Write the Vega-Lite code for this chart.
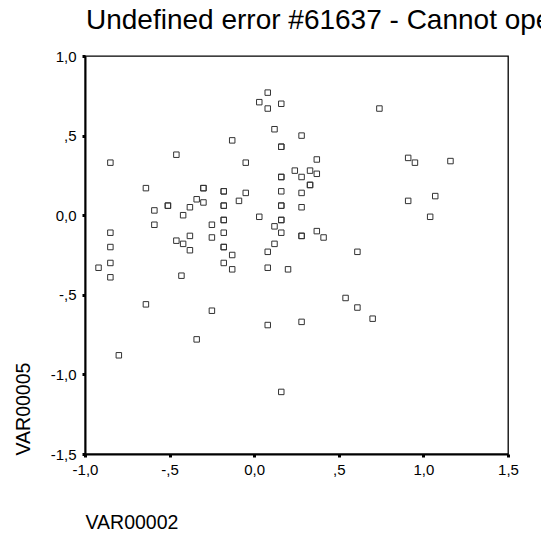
{
  "$schema": "https://vega.github.io/schema/vega-lite/v6.json",
  "autosize": "none",
  "width": 423,
  "height": 398,
  "padding": {"left": 85, "top": 56, "right": 33, "bottom": 82},
  "background": "white",
  "title": {
    "text": "Undefined error #61637 - Cannot open text file",
    "anchor": "start",
    "frame": "group",
    "font": "Liberation Sans",
    "fontSize": 28,
    "fontWeight": "normal",
    "color": "black",
    "baseline": "alphabetic",
    "offset": -8,
    "dx": 1
  },
  "config": {
    "view": {"stroke": "black", "strokeWidth": 1.3},
    "axis": {
      "grid": false,
      "labelFlush": false,
      "labelOverlap": false,
      "domainColor": "black",
      "domainWidth": 2,
      "tickColor": "black",
      "tickSize": 3,
      "tickWidth": 3,
      "labelFont": "Liberation Sans",
      "labelFontSize": 15,
      "labelColor": "black",
      "titleFont": "Liberation Sans",
      "titleFontSize": 19.5,
      "titleFontWeight": "normal",
      "titleColor": "black"
    }
  },
  "data": {
    "values": [
      {"VAR00002": -0.85, "VAR00005": 0.33},
      {"VAR00002": -0.46, "VAR00005": 0.38},
      {"VAR00002": 0.08, "VAR00005": 0.77},
      {"VAR00002": 0.03, "VAR00005": 0.71},
      {"VAR00002": 0.08, "VAR00005": 0.67},
      {"VAR00002": 0.16, "VAR00005": 0.70},
      {"VAR00002": 0.12, "VAR00005": 0.54},
      {"VAR00002": 0.16, "VAR00005": 0.43},
      {"VAR00002": 0.16, "VAR00005": 0.43},
      {"VAR00002": -0.13, "VAR00005": 0.47},
      {"VAR00002": -0.05, "VAR00005": 0.33},
      {"VAR00002": -0.64, "VAR00005": 0.17},
      {"VAR00002": -0.30, "VAR00005": 0.17},
      {"VAR00002": -0.30, "VAR00005": 0.17},
      {"VAR00002": -0.18, "VAR00005": 0.15},
      {"VAR00002": -0.18, "VAR00005": 0.15},
      {"VAR00002": -0.05, "VAR00005": 0.14},
      {"VAR00002": 0.16, "VAR00005": 0.24},
      {"VAR00002": 0.16, "VAR00005": 0.24},
      {"VAR00002": 0.16, "VAR00005": 0.15},
      {"VAR00002": -0.59, "VAR00005": 0.03},
      {"VAR00002": -0.51, "VAR00005": 0.06},
      {"VAR00002": -0.51, "VAR00005": 0.06},
      {"VAR00002": -0.34, "VAR00005": 0.10},
      {"VAR00002": -0.38, "VAR00005": 0.05},
      {"VAR00002": -0.30, "VAR00005": 0.08},
      {"VAR00002": -0.42, "VAR00005": 0.00},
      {"VAR00002": -0.18, "VAR00005": 0.06},
      {"VAR00002": -0.18, "VAR00005": 0.06},
      {"VAR00002": -0.09, "VAR00005": 0.09},
      {"VAR00002": 0.03, "VAR00005": -0.01},
      {"VAR00002": 0.16, "VAR00005": 0.06},
      {"VAR00002": 0.16, "VAR00005": 0.06},
      {"VAR00002": -0.59, "VAR00005": -0.06},
      {"VAR00002": -0.25, "VAR00005": -0.06},
      {"VAR00002": -0.18, "VAR00005": -0.03},
      {"VAR00002": -0.18, "VAR00005": -0.03},
      {"VAR00002": 0.12, "VAR00005": -0.07},
      {"VAR00002": 0.16, "VAR00005": -0.03},
      {"VAR00002": 0.16, "VAR00005": -0.03},
      {"VAR00002": -0.85, "VAR00005": -0.11},
      {"VAR00002": -0.46, "VAR00005": -0.16},
      {"VAR00002": -0.42, "VAR00005": -0.18},
      {"VAR00002": -0.38, "VAR00005": -0.13},
      {"VAR00002": -0.38, "VAR00005": -0.22},
      {"VAR00002": -0.25, "VAR00005": -0.14},
      {"VAR00002": -0.18, "VAR00005": -0.11},
      {"VAR00002": -0.18, "VAR00005": -0.20},
      {"VAR00002": -0.18, "VAR00005": -0.20},
      {"VAR00002": -0.13, "VAR00005": -0.25},
      {"VAR00002": 0.12, "VAR00005": -0.18},
      {"VAR00002": 0.08, "VAR00005": -0.23},
      {"VAR00002": 0.16, "VAR00005": -0.11},
      {"VAR00002": -0.85, "VAR00005": -0.20},
      {"VAR00002": 0.74, "VAR00005": 0.67},
      {"VAR00002": 0.28, "VAR00005": 0.50},
      {"VAR00002": 0.37, "VAR00005": 0.35},
      {"VAR00002": 0.91, "VAR00005": 0.36},
      {"VAR00002": 0.95, "VAR00005": 0.33},
      {"VAR00002": 1.16, "VAR00005": 0.34},
      {"VAR00002": 0.24, "VAR00005": 0.28},
      {"VAR00002": 0.28, "VAR00005": 0.24},
      {"VAR00002": 0.33, "VAR00005": 0.28},
      {"VAR00002": 0.37, "VAR00005": 0.26},
      {"VAR00002": 0.33, "VAR00005": 0.19},
      {"VAR00002": 0.33, "VAR00005": 0.19},
      {"VAR00002": 0.28, "VAR00005": 0.14},
      {"VAR00002": 0.28, "VAR00005": 0.05},
      {"VAR00002": 0.91, "VAR00005": 0.09},
      {"VAR00002": 1.07, "VAR00005": 0.12},
      {"VAR00002": 1.04, "VAR00005": -0.01},
      {"VAR00002": 0.28, "VAR00005": -0.13},
      {"VAR00002": 0.28, "VAR00005": -0.13},
      {"VAR00002": 0.37, "VAR00005": -0.10},
      {"VAR00002": 0.41, "VAR00005": -0.14},
      {"VAR00002": 0.61, "VAR00005": -0.23},
      {"VAR00002": -0.92, "VAR00005": -0.33},
      {"VAR00002": -0.85, "VAR00005": -0.30},
      {"VAR00002": -0.85, "VAR00005": -0.39},
      {"VAR00002": -0.43, "VAR00005": -0.38},
      {"VAR00002": -0.18, "VAR00005": -0.30},
      {"VAR00002": -0.13, "VAR00005": -0.34},
      {"VAR00002": 0.08, "VAR00005": -0.33},
      {"VAR00002": 0.20, "VAR00005": -0.34},
      {"VAR00002": -0.64, "VAR00005": -0.56},
      {"VAR00002": -0.25, "VAR00005": -0.60},
      {"VAR00002": -0.34, "VAR00005": -0.78},
      {"VAR00002": 0.08, "VAR00005": -0.69},
      {"VAR00002": -0.80, "VAR00005": -0.88},
      {"VAR00002": 0.16, "VAR00005": -1.11},
      {"VAR00002": 0.54, "VAR00005": -0.52},
      {"VAR00002": 0.61, "VAR00005": -0.58},
      {"VAR00002": 0.70, "VAR00005": -0.65},
      {"VAR00002": 0.28, "VAR00005": -0.67}
    ]
  },
  "mark": {
    "type": "point",
    "shape": "square",
    "filled": false,
    "size": 30,
    "stroke": "#333333",
    "strokeWidth": 1,
    "opacity": 1
  },
  "encoding": {
    "x": {
      "field": "VAR00002",
      "type": "quantitative",
      "scale": {"domain": [-1, 1.5], "nice": false, "zero": false},
      "axis": {
        "values": [-1, -0.5, 0, 0.5, 1, 1.5],
        "labelExpr": "datum.value == -1 ? '-1,0' : datum.value == -0.5 ? '-,5' : datum.value == 0 ? '0,0' : datum.value == 0.5 ? ',5' : datum.value == 1 ? '1,0' : '1,5'",
        "labelPadding": 5,
        "title": "VAR00002",
        "titleAnchor": "start",
        "titleAlign": "left",
        "titleX": 0,
        "titleY": 74,
        "titleBaseline": "alphabetic"
      }
    },
    "y": {
      "field": "VAR00005",
      "type": "quantitative",
      "scale": {"domain": [-1.5, 1], "nice": false, "zero": false},
      "axis": {
        "values": [-1.5, -1, -0.5, 0, 0.5, 1],
        "labelExpr": "datum.value == -1.5 ? '-1,5' : datum.value == -1 ? '-1,0' : datum.value == -0.5 ? '-,5' : datum.value == 0 ? '0,0' : datum.value == 0.5 ? ',5' : '1,0'",
        "labelPadding": 6,
        "title": "VAR00005",
        "titleAngle": -90,
        "titleAlign": "left",
        "titleBaseline": "middle",
        "titleX": -62,
        "titleY": 399
      }
    }
  }
}
